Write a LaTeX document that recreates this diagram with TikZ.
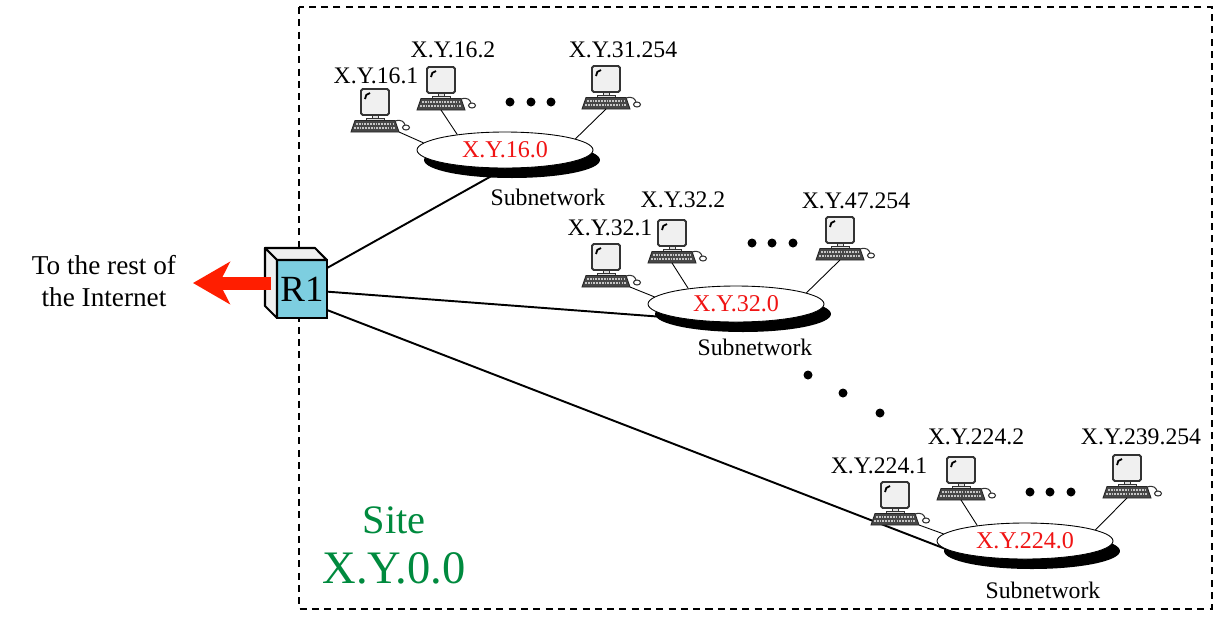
\documentclass[tikz,border=0pt]{standalone}
\usepackage{fontspec}
\setmainfont{Liberation Serif}
\usepackage{tikz}
\usetikzlibrary{arrows.meta}
\usetikzlibrary{shapes.geometric}
\usetikzlibrary{shadows}
\usetikzlibrary{backgrounds}
\definecolor{netred}{RGB}{240,20,20}
\definecolor{sitegreen}{RGB}{0,138,62}
\definecolor{routercyan}{RGB}{125,206,224}
\definecolor{arrowred}{RGB}{255,30,0}
\tikzset{lbl/.style={font=\fontsize{13.5}{15}\selectfont, inner sep=0}}
\tikzset{net/.style={ellipse, draw, line width=0.5pt, fill=white, minimum width=3.52cm, minimum height=0.72cm, inner sep=0, text=netred, font=\fontsize{13.7}{15}\selectfont, drop shadow={shadow xshift=0.14cm, shadow yshift=-0.2cm, fill=black, opacity=1}}}
\tikzset{link/.style={line width=1.1pt}}
\tikzset{hostline/.style={line width=0.5pt}}
\tikzset{routerside/.style={draw=black, fill=gray!12, line width=1.2pt, line join=round}}
\tikzset{
  pc/.pic={
    \filldraw[black!80, fill=gray!12, line width=1.1pt, rounded corners=1pt] (-14,-13) rectangle (14,13);
    \draw[black, line width=1pt] (-10,-3) to[out=90, in=180] (-5,-9);
    \filldraw[black!80, fill=gray!25, line width=0.5pt] (-3,13) rectangle (3,16) (-9,16) rectangle (9,18.5);
    \filldraw[black!85, fill=black!72, line width=0.5pt] (-20,18.5) -- (20,18.5) -- (24,30) -- (-24,30) -- cycle;
    \draw[gray!45, line width=0.6pt, dash pattern=on 1pt off 0.6pt] (-19,22) -- (19,22) (-21,26) -- (21,26);
    \draw[black!80, line width=0.6pt] (20,19) .. controls (27,17) and (29,20) .. (30,23);
    \filldraw[black!80, fill=white, line width=0.6pt] (31,25.5) ellipse [x radius=3.5, y radius=2.5];
    \coordinate (-kb) at (0,30);
    \coordinate (-kr) at (24,30);
  }
}

\begin{document}
\begin{tikzpicture}[x=0.02cm, y=-0.02cm]
  \useasboundingbox (0,0) rectangle (1220,630);
  \draw[line width=0.75pt, dash pattern=on 4pt off 3pt] (299,7) rectangle (1212,609);

  \node[draw, line width=1.2pt, fill=routercyan, minimum width=1cm, minimum height=1.16cm, inner sep=0, outer sep=0, font=\fontsize{21}{21}\selectfont] (R1) at (302,289) {R1};
  \filldraw[routerside] (R1.north west) -- ++(-12,-12) -- ++(50,0) -- (R1.north east) -- cycle;
  \filldraw[routerside] (R1.north west) -- ++(-12,-12) -- ++(0,58) -- (R1.south west) -- cycle;

  \node[align=center, inner sep=0, font=\fontsize{15.5}{18}\selectfont] (inet) at (104,281) {To the rest of\\the Internet};
  \coordinate (tip) at (193,283);
  \draw[arrowred, line width=7.4pt, -{Stealth[length=21pt, width=24pt, inset=6pt]}] ([shift={(-6,-6)}]R1.west) -- (tip);

  \node[net] (N16) at (505,150) {X.Y.16.0};
  \node[net] (N32) at (736,304) {X.Y.32.0};
  \node[net] (N224) at (1025,541) {X.Y.224.0};
  \node[lbl] (S16) at (548,197) {Subnetwork};
  \node[lbl] (S32) at (755,347) {Subnetwork};
  \node[lbl] (S224) at (1043,590) {Subnetwork};

  \begin{scope}[on background layer]
    \draw[link] (R1.40) -- (N16.south);
    \draw[link] (R1.-6) -- (N32.south);
    \draw[link] (R1.-40) -- (N224.188);
  \end{scope}

  \pic (H161) at (375,102) {pc};
  \pic (H162) at (441,80) {pc};
  \pic (H31) at (606,79) {pc};
  \node[lbl] (T161) at (376,76) {X.Y.16.1};
  \node[lbl] (T162) at (453,50) {X.Y.16.2};
  \node[lbl] (T31) at (623,50) {X.Y.31.254};
  \draw[hostline] (H161-kr) -- (N16.175);
  \draw[hostline] (H162-kb) -- (N16.162);
  \draw[hostline] (H31-kb) -- (N16.9);

  \pic (H321) at (606,257) {pc};
  \pic (H322) at (672,233) {pc};
  \pic (H47) at (840,230) {pc};
  \node[lbl] (T321) at (610,228) {X.Y.32.1};
  \node[lbl] (T322) at (683,200) {X.Y.32.2};
  \node[lbl] (T47) at (856,201) {X.Y.47.254};
  \draw[hostline] (H321-kr) -- (N32.175);
  \draw[hostline] (H322-kb) -- (N32.162);
  \draw[hostline] (H47-kb) -- (N32.9);

  \pic (H2241) at (895,495) {pc};
  \pic (H2242) at (961,470) {pc};
  \pic (H239) at (1127,468) {pc};
  \node[lbl] (T2241) at (879,466) {X.Y.224.1};
  \node[lbl] (T2242) at (976,437) {X.Y.224.2};
  \node[lbl] (T239) at (1141,437) {X.Y.239.254};
  \draw[hostline] (H2241-kr) -- (N224.175);
  \draw[hostline] (H2242-kb) -- (N224.162);
  \draw[hostline] (H239-kb) -- (N224.9);

  \foreach \x/\y in {510/102, 531/102, 551/102, 752/243, 772/243, 793/243, 1030/492, 1050/492, 1071/492, 808/375, 843/393, 880/413}
    \fill (\x,\y) circle [radius=4.5];

  \node[text=sitegreen, inner sep=0, font=\fontsize{23}{23}\selectfont] (site) at (394,520) {Site};
  \node[text=sitegreen, inner sep=0, font=\fontsize{26.5}{27}\selectfont] (siteaddr) at (394,568) {X.Y.0.0};
\end{tikzpicture}
\end{document}
